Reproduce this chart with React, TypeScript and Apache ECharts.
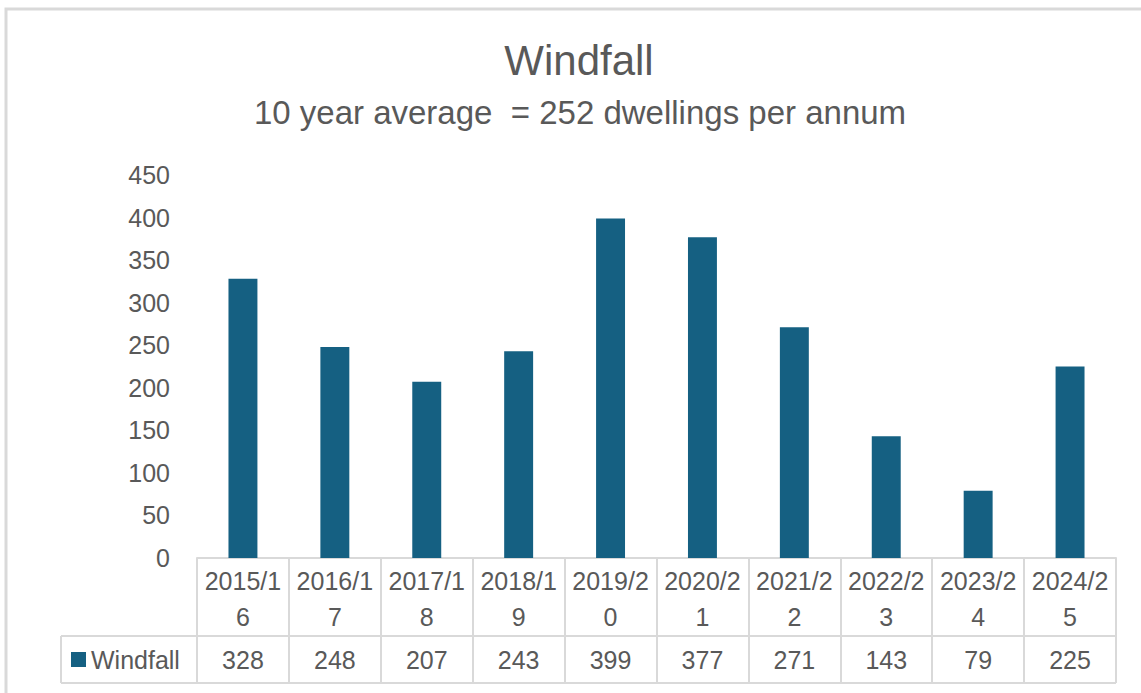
import React, { useEffect, useRef } from "react";
import * as echarts from "echarts";

const categories = ["2015/16", "2016/17", "2017/18", "2018/19", "2019/20", "2020/21", "2021/22", "2022/23", "2023/24", "2024/25"];
const windfall = [328, 248, 207, 243, 399, 377, 271, 143, 79, 225];
const seriesName = "Windfall";
const titleText = "Windfall";
const subtitleText = "10 year average  = 252 dwellings per annum";
const yMin = 0;
const yMax = 450;
const yInterval = 50;

const W = 1141;
const H = 693;
const GRID_LEFT = 197;
const GRID_RIGHT = 25;
const GRID_TOP = 175;
const GRID_BOTTOM = 135;
const TABLE_LEFT = 61;
const HEADER_H = 78;
const ROW_H = 47;
const TEXT = "#595959";
const LINE = "#d9d9d9";
const BAR = "#156082";
const FONT = "'Liberation Sans', Arial, sans-serif";

export default function App() {
  const ref = useRef<HTMLDivElement>(null);
  useEffect(() => {
    document.body.style.margin = "0";
    if (!ref.current) return;
    const chart = echarts.init(ref.current, undefined, { renderer: "svg" });
    const axisY = H - GRID_BOTTOM;
    const tableRight = W - GRID_RIGHT;
    chart.setOption({
      animation: false,
      backgroundColor: "#ffffff",
      textStyle: { fontFamily: FONT },
      legend: {
        data: [{ name: seriesName, icon: "rect" }],
        left: 71,
        top: axisY + HEADER_H + 11,
        padding: 0,
        itemWidth: 15,
        itemHeight: 15,
        textStyle: { fontSize: 25, color: TEXT, fontFamily: FONT },
      },
      grid: { left: GRID_LEFT, right: GRID_RIGHT, top: GRID_TOP, bottom: GRID_BOTTOM, containLabel: false },
      xAxis: [
        {
          type: "category",
          data: categories,
          position: "bottom",
          axisLine: { show: true, lineStyle: { color: LINE, width: 2 } },
          axisTick: { show: true, alignWithLabel: false, inside: false, length: HEADER_H + ROW_H, lineStyle: { color: LINE, width: 2 } },
          axisLabel: {
            interval: 0,
            fontSize: 25,
            color: TEXT,
            fontFamily: FONT,
            lineHeight: 36,
            margin: 5,
            formatter: (s: string) => s.slice(0, 6) + "\n" + s.slice(6),
          },
          splitLine: { show: false },
        },
        {
          type: "category",
          data: windfall.map(String),
          position: "bottom",
          offset: HEADER_H,
          axisLine: { show: true, lineStyle: { color: LINE, width: 2 } },
          axisTick: { show: false },
          axisLabel: { interval: 0, fontSize: 25, color: TEXT, fontFamily: FONT, lineHeight: 30, margin: 9 },
          splitLine: { show: false },
        },
      ],
      yAxis: {
        type: "value",
        min: yMin,
        max: yMax,
        interval: yInterval,
        axisLine: { show: false },
        axisTick: { show: false },
        splitLine: { show: false },
        axisLabel: { fontSize: 25, color: TEXT, fontFamily: FONT, margin: 27 },
      },
      series: [
        {
          name: seriesName,
          type: "bar",
          xAxisIndex: 0,
          data: windfall,
          barWidth: "31.5%",
          itemStyle: { color: BAR },
        },
      ],
      graphic: [
        { type: "rect", shape: { x: 6, y: 9, width: 1300, height: 900 }, style: { fill: "none", stroke: LINE, lineWidth: 3 }, silent: true },
        { type: "text", x: 579, y: 60, style: { text: titleText, font: `42px ${FONT}`, fill: TEXT, textAlign: "center", textVerticalAlign: "middle" } },
        { type: "text", x: 580, y: 112, style: { text: subtitleText, font: `33px ${FONT}`, fill: TEXT, textAlign: "center", textVerticalAlign: "middle" } },
        { type: "line", shape: { x1: TABLE_LEFT, y1: axisY + HEADER_H, x2: GRID_LEFT, y2: axisY + HEADER_H }, style: { stroke: LINE, lineWidth: 2 } },
        { type: "line", shape: { x1: TABLE_LEFT, y1: axisY + HEADER_H + ROW_H, x2: tableRight, y2: axisY + HEADER_H + ROW_H }, style: { stroke: LINE, lineWidth: 2 } },
        { type: "line", shape: { x1: TABLE_LEFT, y1: axisY + HEADER_H, x2: TABLE_LEFT, y2: axisY + HEADER_H + ROW_H }, style: { stroke: LINE, lineWidth: 2 } },
      ],
    });
    return () => chart.dispose();
  }, []);
  return <div ref={ref} style={{ width: W, height: H }} />;
}
